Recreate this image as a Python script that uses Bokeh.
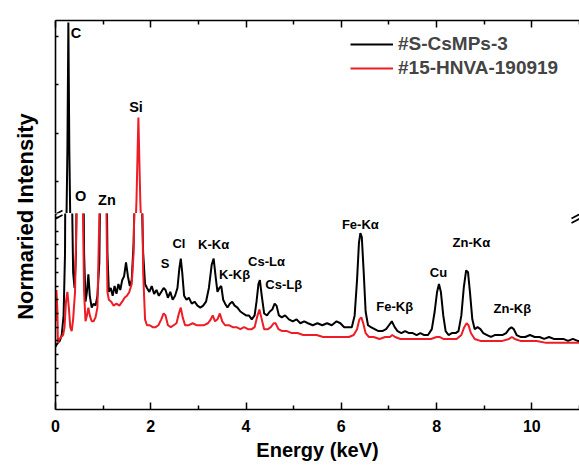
import numpy as np
from bokeh.plotting import figure
from bokeh.models import (Range1d, FixedTicker, Label, Arrow, Legend, LegendItem,
                          ColumnDataSource, CustomLabelingPolicy)
from bokeh.layouts import row, column
from bokeh.embed import file_html
from bokeh.resources import INLINE
from bokeh.core.properties import value

# ---------------- data ----------------
series_names = ["#S-CsMPs-3", "#15-HNVA-190919"]
series_colors = ["#000000", "#ee1c24"]

energy_s = [0.00, 0.02, 0.05, 0.09, 0.13, 0.17, 0.20, 0.23, 0.25, 0.27, 0.29, 0.31, 0.34, 0.37,
            0.40, 0.43, 0.47, 0.52, 0.57, 0.60, 0.63, 0.66, 0.69, 0.72, 0.76, 0.80, 0.84, 0.88,
            0.92, 0.96, 1.01, 1.06, 1.09, 1.12, 1.16, 1.20, 1.24, 1.28, 1.32, 1.36, 1.40, 1.44,
            1.48, 1.52, 1.56, 1.60, 1.64, 1.68, 1.74, 1.80, 1.84, 1.88, 1.92, 1.97, 2.02, 2.07,
            2.12, 2.17, 2.22, 2.27, 2.31, 2.36, 2.41, 2.46, 2.51, 2.56, 2.60, 2.63, 2.66, 2.70,
            2.75, 2.80, 2.86, 2.92, 2.98, 3.04, 3.10, 3.16, 3.22, 3.28, 3.32, 3.36, 3.40, 3.44,
            3.48, 3.52, 3.56, 3.61, 3.66, 3.71, 3.76, 3.82, 3.88, 3.94, 4.00, 4.06, 4.12, 4.18,
            4.22, 4.26, 4.29, 4.33, 4.38, 4.44, 4.50, 4.55, 4.60, 4.64, 4.69, 4.75, 4.82, 4.90,
            4.98, 5.06, 5.14, 5.22, 5.30, 5.40, 5.50, 5.60, 5.70, 5.80, 5.90, 5.98, 6.06, 6.14,
            6.22, 6.28, 6.33, 6.37, 6.40, 6.43, 6.47, 6.51, 6.56, 6.62, 6.70, 6.78, 6.86, 6.94,
            7.00, 7.06, 7.12, 7.18, 7.26, 7.34, 7.42, 7.50, 7.58, 7.66, 7.74, 7.82, 7.90, 7.96,
            8.01, 8.05, 8.09, 8.14, 8.19, 8.25, 8.32, 8.40, 8.46, 8.52, 8.57, 8.62, 8.66, 8.70,
            8.75, 8.80, 8.86, 8.92, 8.98, 9.06, 9.14, 9.22, 9.30, 9.38, 9.46, 9.52, 9.57, 9.62,
            9.68, 9.76, 9.86, 9.96, 10.06, 10.16, 10.26, 10.36, 10.46, 10.56, 10.66, 10.76,
            10.86, 10.96, 11.00]
counts_s = [32, 33, 34, 35, 38, 48, 80, 260, 700, 1487, 700, 260, 120, 70,
            62, 80, 170, 240, 170, 80, 55, 60, 69, 58, 52, 54, 53, 58,
            75, 160, 250, 150, 80, 60, 62, 58, 63, 59, 64, 61, 66, 68,
            75, 68, 63, 66, 85, 130, 180, 120, 80, 64, 62, 60, 63, 59,
            61, 58, 60, 62, 61, 57, 60, 56, 58, 62, 72, 77, 70, 58,
            56, 57, 54, 55, 53, 52, 53, 55, 62, 74, 77, 68, 60, 62,
            63, 56, 54, 52, 54, 55, 53, 52, 50, 49, 48, 48, 46, 48,
            55, 64, 66, 58, 49, 48, 50, 51, 54, 53, 48, 47, 48, 46,
            45, 46, 44, 45, 44, 43, 44, 43, 44, 43, 45, 44, 42, 42,
            42, 48, 66, 85, 90, 88, 70, 50, 43, 42, 41, 40, 40, 41,
            43, 45, 42, 40, 39, 40, 39, 39, 38, 39, 38, 38, 41, 50,
            60, 64, 60, 48, 40, 38, 39, 39, 40, 48, 62, 71, 70, 60,
            46, 41, 42, 41, 39, 38, 37, 38, 38, 38, 39, 41, 42, 41,
            38, 37, 37, 38, 37, 37, 36, 37, 36, 36, 36, 35,
            36, 35, 35]

energy_h = [0.00, 0.02, 0.04, 0.05, 0.08, 0.12, 0.16, 0.19, 0.22, 0.25, 0.28, 0.31, 0.34, 0.37,
            0.41, 0.45, 0.51, 0.57, 0.60, 0.63, 0.66, 0.69, 0.72, 0.76, 0.80, 0.84, 0.88, 0.93,
            0.98, 1.02, 1.06, 1.09, 1.12, 1.17, 1.22, 1.28, 1.34, 1.40, 1.45, 1.50, 1.55, 1.60,
            1.64, 1.67, 1.70, 1.74, 1.78, 1.81, 1.84, 1.88, 1.92, 1.98, 2.04, 2.10, 2.16, 2.22,
            2.27, 2.31, 2.36, 2.42, 2.48, 2.54, 2.59, 2.63, 2.67, 2.72, 2.80, 2.88, 2.96, 3.04,
            3.12, 3.20, 3.26, 3.30, 3.35, 3.40, 3.45, 3.50, 3.56, 3.64, 3.72, 3.80, 3.88, 3.96,
            4.04, 4.12, 4.18, 4.23, 4.28, 4.32, 4.38, 4.46, 4.52, 4.58, 4.62, 4.68, 4.76, 4.86,
            4.96, 5.08, 5.20, 5.34, 5.48, 5.62, 5.76, 5.90, 6.04, 6.16, 6.26, 6.33, 6.38, 6.42,
            6.46, 6.51, 6.58, 6.68, 6.80, 6.92, 7.02, 7.07, 7.13, 7.24, 7.40, 7.56, 7.72, 7.88,
            8.00, 8.06, 8.14, 8.28, 8.42, 8.52, 8.58, 8.63, 8.67, 8.72, 8.80, 8.92, 9.06, 9.22,
            9.38, 9.52, 9.58, 9.64, 9.76, 9.92, 10.10, 10.30, 10.50, 10.70, 10.90, 11.00]
counts_h = [45, 61, 50, 34, 36, 37, 38, 42, 55, 60, 52, 42, 40, 46,
            60, 110, 260, 110, 60, 45, 48, 52, 48, 45, 45, 47, 52, 110,
            230, 240, 120, 60, 56, 55, 53, 54, 53, 55, 57, 58, 60, 64,
            80, 130, 380, 897, 380, 130, 70, 46, 43, 43, 42, 42, 43, 46,
            49, 48, 43, 42, 43, 44, 49, 52, 47, 43, 43, 44, 43, 43,
            43, 44, 46, 48, 45, 46, 49, 45, 43, 43, 42, 42, 41, 42,
            41, 41, 42, 47, 51, 47, 41, 41, 42, 44, 44, 41, 40, 40,
            39, 39, 38, 38, 38, 37, 37, 37, 37, 37, 38, 41, 46, 47,
            44, 39, 37, 37, 36, 37, 37, 38, 37, 36, 36, 36, 36, 36,
            37, 37, 36, 36, 36, 38, 42, 44, 43, 39, 36, 35, 35, 35,
            35, 36, 37, 36, 35, 35, 35, 34, 34, 34, 34, 34]

# peak annotations (lower segment / upper segment)
peak_labels_low = ["S", "Cl", "K-Kα", "K-Kβ", "Cs-Lα", "Cs-Lβ", "Fe-Kα", "Fe-Kβ", "Cu", "Zn-Kα", "Zn-Kβ"]
peak_x_low = [2.30, 2.59, 3.32, 3.76, 4.43, 4.79, 6.40, 7.12, 8.04, 8.73, 9.59]
peak_y_low = [74.5, 84.7, 84.2, 68.9, 75.5, 63.8, 94.5, 52.6, 69.9, 85.2, 51.5]
peak_labels_high = ["C", "O", "Zn", "Si"]
peak_x_high = [0.43, 0.53, 1.08, 1.69]
peak_y_high = [1425, 406, 381, 965]

x_major_ticks = [0, 2, 4, 6, 8, 10]
x_minor_ticks = [1, 3, 5, 7, 9, 11]
high_y_ticks = [500, 800, 1100, 1400]
low_y_ticks = [7, 14, 21, 28, 35, 42, 49, 56, 63, 70, 77, 84, 91, 98]
low_range = (0, 100)
high_range = (300, 1500)
x_limits = (0, 11)

FONT = "Liberation Sans"

# label policy that shows no tick labels (for the unlabeled axes)
no_labels = CustomLabelingPolicy(code="""
for (let i = 0; i < indices.size; i++) { indices.unset(i) }
return indices
""")

# ---------------- figures ----------------
xr = Range1d(*x_limits)
MAIN_W = 535
top = figure(width=MAIN_W, height=213, x_range=xr, y_range=Range1d(*high_range),
             x_axis_location="above", output_backend="svg", toolbar_location=None,
             min_border_left=11, min_border_right=0, min_border_top=20, min_border_bottom=0)
bot = figure(width=MAIN_W, height=252, x_range=xr, y_range=Range1d(*low_range),
             output_backend="svg", toolbar_location=None,
             min_border_left=11, min_border_right=0, min_border_top=0, min_border_bottom=56)

for p in (top, bot):
    p.outline_line_color = None
    p.grid.visible = False
    p.background_fill_color = "white"
    p.border_fill_color = "white"
    for ax in p.axis:
        ax.axis_line_width = 1.6
        ax.axis_line_color = "black"
        ax.major_tick_line_color = "black"
        ax.minor_tick_line_color = "black"
        ax.major_tick_line_width = 1.5
        ax.minor_tick_line_width = 1.5
        ax.major_tick_out = 0
        ax.minor_tick_out = 0
    xa = p.xaxis[0]
    xa.ticker = FixedTicker(ticks=x_major_ticks, minor_ticks=x_minor_ticks)
    xa.major_tick_in = 7
    xa.minor_tick_in = 4
    ya = p.yaxis[0]
    ya.major_tick_in = 3
    ya.minor_tick_in = 0
    ya.major_label_text_font_size = "1px"
    ya.major_label_standoff = 0
    ya.major_label_policy = no_labels

top.yaxis[0].ticker = FixedTicker(ticks=high_y_ticks, minor_ticks=[])
bot.yaxis[0].ticker = FixedTicker(ticks=low_y_ticks, minor_ticks=[])

ta = top.xaxis[0]
ta.major_label_text_font_size = "1px"
ta.major_label_standoff = 0
ta.major_label_policy = no_labels

ba = bot.xaxis[0]
ba.major_label_text_font = FONT
ba.major_label_text_font_size = "16px"
ba.major_label_text_font_style = "bold"
ba.major_label_text_color = "black"
ba.major_label_standoff = 10
ba.axis_label = "Energy (keV)"
ba.axis_label_text_font = FONT
ba.axis_label_text_font_size = "20px"
ba.axis_label_text_font_style = "bold"
ba.axis_label_text_color = "black"
ba.axis_label_standoff = 4

src_s = ColumnDataSource(dict(x=energy_s, y=counts_s))
src_h = ColumnDataSource(dict(x=energy_h, y=counts_h))
rends = {}
for p, key in ((top, "top"), (bot, "bot")):
    r1 = p.line("x", "y", source=src_s, line_color=series_colors[0], line_width=2)
    r2 = p.line("x", "y", source=src_h, line_color=series_colors[1], line_width=2)
    rends[key] = (r1, r2)

lab_low = ColumnDataSource(dict(x=peak_x_low, y=peak_y_low, t=peak_labels_low))
lab_high = ColumnDataSource(dict(x=peak_x_high, y=peak_y_high, t=peak_labels_high))
for p, s, fs in ((bot, lab_low, "13px"), (top, lab_high, "14.5px")):
    p.text("x", "y", text="t", source=s, text_font=value(FONT), text_font_style="bold",
           text_font_size=fs, text_align="center", text_baseline="middle", text_color="black")

legend = Legend(items=[LegendItem(label=series_names[0], renderers=[rends["top"][0]]),
                       LegendItem(label=series_names[1], renderers=[rends["top"][1]])],
                location=(295, 133), border_line_color=None, background_fill_alpha=0,
                padding=0, margin=0, spacing=0, glyph_width=43, glyph_height=24,
                label_height=24, label_standoff=5, label_text_font=FONT,
                label_text_font_size="19px", label_text_font_style="bold")
top.add_layout(legend)

# axis-break marks ("//") drawn on both halves at the break
frame_w, top_h, bot_h = 524.0, 193.0, 196.0
kx = (x_limits[1] - x_limits[0]) / frame_w
ky_top = (high_range[1] - high_range[0]) / top_h
ky_bot = (low_range[1] - low_range[0]) / bot_h
marks = [((-8, -5), (7, 3)), ((-8, -9.5), (7, -1.5))]
for xb in x_limits:
    for (a, b) in marks:
        top.add_layout(Arrow(x_start=xb + a[0] * kx, y_start=high_range[0] + a[1] * ky_top,
                             x_end=xb + b[0] * kx, y_end=high_range[0] + b[1] * ky_top,
                             start=None, end=None, line_width=1.6, line_color="black"))
        bot.add_layout(Arrow(x_start=xb + a[0] * kx, y_start=low_range[1] + a[1] * ky_bot,
                             x_end=xb + b[0] * kx, y_end=low_range[1] + b[1] * ky_bot,
                             start=None, end=None, line_width=1.6, line_color="black"))

# y-axis title in a narrow figure spanning both halves
LAB_W, LAB_H = 44, 465
labfig = figure(width=LAB_W, height=LAB_H, x_range=Range1d(0, LAB_W), y_range=Range1d(0, LAB_H),
                output_backend="svg", toolbar_location=None, min_border=0,
                x_axis_location=None, y_axis_location=None)
labfig.outline_line_color = None
labfig.grid.visible = False
labfig.add_layout(Label(x=25, y=LAB_H - 216, text="Normaried Intensity", angle=np.pi / 2,
                        text_align="center", text_baseline="middle", text_font=FONT,
                        text_font_size="22px", text_font_style="bold", text_color="black"))

layout = row(labfig, column(top, bot))
open("out.html", "w").write(file_html(layout, INLINE))
